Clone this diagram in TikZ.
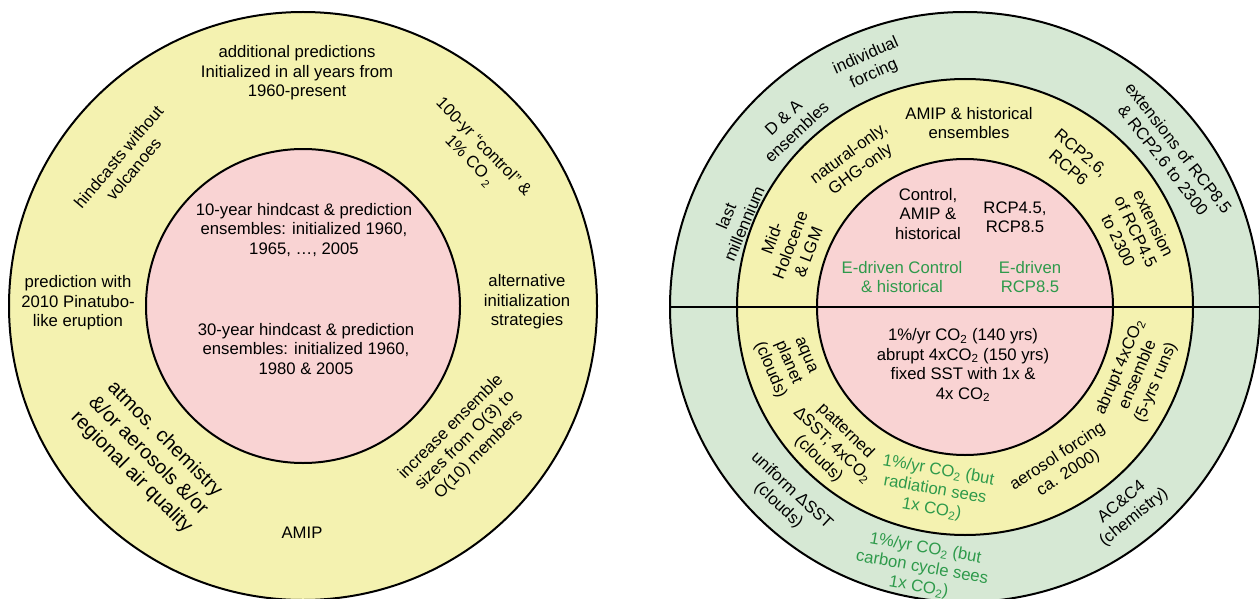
\documentclass[tikz,border=0pt]{standalone}
\usepackage{fontspec}
\setmainfont{Liberation Sans}
\definecolor{ryellow}{HTML}{F4F2B0}
\definecolor{rpink}{HTML}{F9D3D3}
\definecolor{rgreen}{HTML}{D6E8D4}
\definecolor{tgreen}{HTML}{2E9A4B}
\newcommand\cotwo{CO\textsubscript{2}}
\begin{document}
\begin{tikzpicture}[x=1pt,y=-1pt,
 ring/.style={circle, draw=black, line width=2pt, inner sep=0pt},
 lbl/.style={align=center, inner sep=0pt, font=\fontsize{16.7}{19.5}\selectfont},
 big/.style={align=center, inner sep=0pt, font=\fontsize{20}{23.5}\selectfont},
 grn/.style={text=tgreen}]
\useasboundingbox (0,0) rectangle (1260,599);
% left diagram
\node[ring, fill=ryellow, minimum size=588pt] (Lout) at (303,306) {};
\node[ring, fill=rpink, minimum size=314pt] (Lin) at (303,306) {};
\node[lbl] (L1) at (297,73) {additional predictions\\Initialized in all years from\\1960-present};
\node[lbl, rotate=50] (L2) at (126,163) {hindcasts without\\volcanoes};
\node[lbl, rotate=-46] (L3) at (476,154) {100-yr “control” \&\\1\% CO\,\raisebox{-4pt}{\fontsize{11}{11}\selectfont 2}};
\node[lbl] (L4) at (78,303) {prediction with\\2010 Pinatubo-\\like eruption};
\node[lbl] (L5) at (527,302) {alternative\\initialization\\strategies};
\node[lbl] (L6) at (304,230) {10-year hindcast \& prediction\\ensembles: initialized 1960,\\1965, …, 2005};
\node[lbl] (L7) at (306,349) {30-year hindcast \& prediction\\ensembles: initialized 1960,\\1980 \& 2005};
\node[big, rotate=-45] (L8) at (148,456) {atmos. chemistry\\\&/or aerosols \&/or\\regional air quality};
\node[lbl, rotate=45] (L9) at (465,441) {increase ensemble\\sizes from O(3) to\\O(10) members};
\node[lbl] (L10) at (302,533) {AMIP};
% right diagram
\node[ring, fill=rgreen, minimum size=590pt] (Rout) at (965,307) {};
\node[ring, fill=ryellow, minimum size=456pt] (Rmid) at (965,307) {};
\node[ring, fill=rpink, minimum size=296pt] (Rin) at (965,307) {};
\draw[line width=2pt] (Rout.west) -- (Rout.east);
\node[lbl, rotate=24] (R1) at (870,65) {individual\\forcing};
\node[lbl, rotate=43] (R2) at (790,125) {D \& A\\ensembles};
\node[lbl, rotate=67] (R3) at (735,220) {last\\millennium};
\node[lbl, rotate=-52] (R4) at (1171,154) {extensions of RCP8.5\\\& RCP2.6 to 2300};
\node[lbl, rotate=-43] (R5) at (785,498) {uniform ΔSST\\(clouds)};
\node[lbl, grn, rotate=-10] (R6) at (922,568) {1\%/yr \cotwo{} (but\\carbon cycle sees\\1x \cotwo)};
\node[lbl, rotate=39] (R7) at (1128,510) {AC\&C4\\(chemistry)};
\node[lbl] (R8) at (969,123) {AMIP \& historical\\ensembles};
\node[lbl, rotate=36] (R9) at (855,162) {natural-only,\\GHG-only};
\node[lbl, rotate=69] (R10) at (790,245) {Mid-\\Holocene\\\& LGM};
\node[lbl, rotate=-40] (R11) at (1075,160) {RCP2.6,\\RCP6};
\node[lbl, rotate=-64] (R12) at (1136,232) {extension\\of RCP4.5\\to 2300};
\node[lbl] (R13) at (928,214) {Control,\\AMIP \&\\historical};
\node[lbl] (R14) at (1015,217) {RCP4.5,\\RCP8.5};
\node[lbl, grn] (R15) at (902,277) {E-driven Control\\\& historical};
\node[lbl, grn] (R16) at (1030,277) {E-driven\\RCP8.5};
\node[lbl] (R17) at (963,365) {1\%/yr \cotwo{} (140 yrs)\\abrupt 4x\cotwo{} (150 yrs)\\fixed SST with 1x \&\\4x \cotwo};
\node[lbl, rotate=-67] (R18) at (787,363) {aqua\\planet\\(clouds)};
\node[lbl, rotate=-44] (R19) at (832,445) {patterned\\ΔSST; 4x\cotwo\\(clouds)};
\node[lbl, grn, rotate=-10] (R20) at (935,490) {1\%/yr \cotwo{} (but\\radiation sees\\1x \cotwo)};
\node[lbl, rotate=33] (R21) at (1063,465) {aerosol forcing\\ca. 2000)};
\node[lbl, rotate=67] (R22) at (1138,375) {abrupt 4x\cotwo\\ensemble\\(5-yrs runs)};
\end{tikzpicture}
\end{document}
